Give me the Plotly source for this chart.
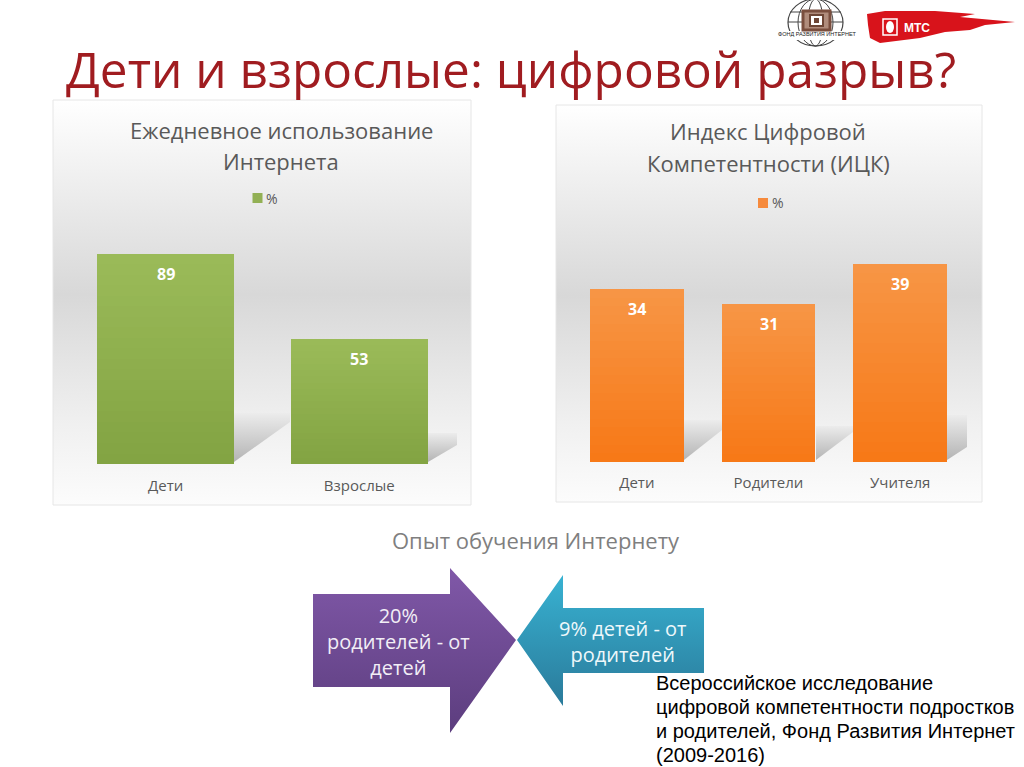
"""Slide: digital divide between children and adults, two bar panels and two arrows."""

import plotly.graph_objects as go

W, H = 1024, 767

# chart data
daily_categories = ["Дети", "Взрослые"]
daily_values = [89, 53]
index_categories = ["Дети", "Родители", "Учителя"]
index_values = [34, 31, 39]
series_name = "%"

GREEN_TOP, GREEN_BOTTOM = (155, 187, 89), (130, 163, 66)
ORANGE_TOP, ORANGE_BOTTOM = (247, 150, 70), (247, 120, 22)
STEPS = 20
TEXT_GREY = "#595959"
BODY_FONT = "Open Sans"


def mix(a, b, t):
    return "rgb(%d,%d,%d)" % tuple(round(a[i] + (b[i] - a[i]) * t) for i in range(3))


def px_x(x):
    return x / W


def px_y(y):
    return 1 - y / H


def gradient_poly(xs, ys, stops, line=None):
    """Filled polygon on the full-page pixel axes, stops listed from top to bottom."""
    # the pixel y axis is reversed, so the colorscale runs bottom to top on screen
    flipped = [[1 - t, c] for t, c in reversed(stops)]
    fig.add_trace(go.Scatter(
        x=xs + xs[:1],
        y=ys + ys[:1],
        mode="lines",
        fill="toself",
        fillgradient=dict(type="vertical", colorscale=flipped),
        line=dict(width=1 if line else 0, color=line or "rgba(0,0,0,0)"),
        hoverinfo="skip",
        showlegend=False,
        xaxis="x",
        yaxis="y",
    ))


def stacked_bars(categories, values, top, bottom, xaxis, yaxis):
    # bars cut in thin slices to get the vertical gradient
    for k in range(STEPS):
        colors = [mix(bottom, top, (k + 0.5) / STEPS) for _ in values]
        fig.add_trace(go.Bar(
            x=categories,
            y=[v / STEPS for v in values],
            marker=dict(color=colors, line=dict(width=0)),
            name=series_name,
            showlegend=False,
            hoverinfo="skip",
            xaxis=xaxis,
            yaxis=yaxis,
        ))


def legend_key(x, y, color, text_x):
    fig.add_trace(go.Scatter(
        x=[x], y=[y], mode="markers", marker=dict(symbol="square", size=10, color=color),
        hoverinfo="skip", showlegend=False, xaxis="x", yaxis="y",
    ))
    label(text_x, y, series_name, 14)


def label(x, y, text, size, color=TEXT_GREY, family=BODY_FONT, xanchor="center"):
    fig.add_annotation(
        x=px_x(x), y=px_y(y), xref="paper", yref="paper", text=text, showarrow=False,
        xanchor=xanchor, yanchor="middle", font=dict(size=size, color=color, family=family),
    )


fig = go.Figure()

# pixel axes carry the panels, shadows and arrows, and stay under the bar subplots
panel_stops = [[0, "#ffffff"], [0.48, "#d8d8d8"], [0.8, "#f0f0f0"], [1, "#fcfcfc"]]
gradient_poly([53, 471, 471, 53], [100, 100, 505, 505], panel_stops, line="#e6e6e6")
gradient_poly([556, 982, 982, 556], [105, 105, 502, 502], panel_stops, line="#e6e6e6")

shadow_stops = [[0, "#ececec"], [1, "#b4b4b4"]]
gradient_poly([234, 290, 290, 234], [413, 413, 422, 462], shadow_stops)
gradient_poly([428, 457, 457, 428], [433, 433, 445, 462], shadow_stops)
gradient_poly([684, 722, 722, 684], [420, 420, 430, 460], shadow_stops)
gradient_poly([816, 853, 853, 816], [426, 426, 432, 460], shadow_stops)
gradient_poly([947, 967, 967, 947], [415, 415, 447, 460], shadow_stops)

gradient_poly(
    [313, 450, 450, 516, 450, 450, 313], [594, 594, 568, 640, 733, 687, 687],
    [[0, "#8058a8"], [1, "#5c3d7e"]],
)
gradient_poly(
    [517, 563, 563, 704, 704, 563, 563], [640, 575, 608, 608, 673, 673, 706],
    [[0, "#38b2d2"], [1, "#2a7a9a"]],
)

stacked_bars(daily_categories, daily_values, GREEN_TOP, GREEN_BOTTOM, "x2", "y2")
stacked_bars(index_categories, index_values, ORANGE_TOP, ORANGE_BOTTOM, "x3", "y3")

legend_key(257.5, 198, "#92b054", 272)
legend_key(763, 203, "#f68a3c", 778)

# value labels sit just under the bar tops
for cats, vals, xa, ya in [
    (daily_categories, daily_values, "x2", "y2"),
    (index_categories, index_values, "x3", "y3"),
]:
    for cat, val in zip(cats, vals):
        fig.add_annotation(
            x=cat, y=val, xref=xa, yref=ya, text=f"<b>{val}</b>", showarrow=False,
            yanchor="top", yshift=-7, font=dict(size=16, color="#ffffff", family=BODY_FONT),
        )

label(511, 69, "Дети и взрослые: цифровой разрыв?", 49.5, color="#a01c20")

label(281, 130, "Ежедневное использование", 22)
label(281, 161, "Интернета", 22)
label(768, 131, "Индекс Цифровой", 22)
label(768, 163, "Компетентности (ИЦК)", 22)

label(536, 540, "Опыт обучения Интернету", 22, color="#7f7f7f")

label(398, 641, "20%<br>родителей - от<br>детей", 20, color="#f2eef6")
label(623, 641, "9% детей - от<br>родителей", 20, color="#eef8fb")

footer = [
    "Всероссийское исследование",
    "цифровой компетентности подростков",
    "и родителей, Фонд Развития Интернет",
    "(2009-2016)",
]
for y, line in zip([683, 707, 731, 755], footer):
    label(654, y, line, 20, color="#000000", family="Liberation Sans", xanchor="left")

# logos, rough
shapes = [
    dict(type="circle", x0=788, x1=843, y0=-1, y1=46, line=dict(color="#444444", width=1.2)),
    dict(type="circle", x0=798, x1=833, y0=-1, y1=46, line=dict(color="#444444", width=1)),
    dict(type="circle", x0=808, x1=823, y0=-1, y1=46, line=dict(color="#444444", width=1)),
    dict(type="line", x0=790, x1=841, y0=12, y1=12, line=dict(color="#444444", width=1)),
    dict(type="line", x0=788, x1=843, y0=22, y1=22, line=dict(color="#444444", width=1)),
    dict(type="rect", x0=780, x1=854, y0=31, y1=40, fillcolor="#ffffff", line=dict(width=0)),
    dict(type="rect", x0=803, x1=830, y0=11, y1=30, fillcolor="#b08c7c",
         line=dict(color="#7a4e3e", width=3)),
    dict(type="rect", x0=810, x1=823, y0=15, y1=26, fillcolor="#ffffff",
         line=dict(color="#6e4636", width=2)),
    dict(type="rect", x0=814, x1=819, y0=18, y1=23, fillcolor="#6e4636", line=dict(width=0)),
    dict(type="path", line=dict(width=0), fillcolor="#d8131b",
         path="M867,14 L885,11 L935,11 L975,14 L960,17 L1015,22 L985,25 L970,30 "
              "L945,32 L920,38 L880,43 L870,38 L868,25 Z"),
    dict(type="rect", x0=883, x1=897, y0=19, y1=35, fillcolor="rgba(0,0,0,0)",
         line=dict(color="#ffffff", width=1.5)),
    dict(type="circle", x0=886, x1=894, y0=21, y1=33, fillcolor="#ffffff", line=dict(width=0)),
]
for s in shapes:
    s.update(xref="x", yref="y", layer="above")
fig.update_layout(shapes=shapes)
label(817, 34, "ФОНД РАЗВИТИЯ ИНТЕРНЕТ", 5.5, color="#222222", family="Liberation Sans")
label(917, 28, "<b>МТС</b>", 12, color="#ffffff", family="Liberation Sans")

fig.update_layout(
    width=W,
    height=H,
    margin=dict(l=0, r=0, t=0, b=0),
    paper_bgcolor="#ffffff",
    plot_bgcolor="rgba(0,0,0,0)",
    barmode="stack",
    bargap=0.29,
    showlegend=False,
    font=dict(family=BODY_FONT, color=TEXT_GREY),
    xaxis=dict(range=[0, W], domain=[0, 1], visible=False, fixedrange=True),
    yaxis=dict(range=[H, 0], domain=[0, 1], visible=False, fixedrange=True),
    xaxis2=dict(
        domain=[px_x(69), px_x(456)], anchor="y2", showline=False, showgrid=False, ticks="",
        tickfont=dict(size=15, color=TEXT_GREY), ticklabelstandoff=11, fixedrange=True,
    ),
    yaxis2=dict(
        domain=[px_y(464), px_y(228)], range=[0, 100], anchor="x2", visible=False, fixedrange=True,
    ),
    xaxis3=dict(
        domain=[px_x(571), px_x(966)], anchor="y3", showline=False, showgrid=False, ticks="",
        tickfont=dict(size=15, color=TEXT_GREY), ticklabelstandoff=10, fixedrange=True,
    ),
    yaxis3=dict(
        domain=[px_y(462), px_y(233)], range=[0, 45], anchor="x3", visible=False, fixedrange=True,
    ),
)

fig.write_html(
    "out.html",
    config={"displayModeBar": False},
    post_script="document.body.style.margin='0';document.body.style.overflow='hidden';",
)
